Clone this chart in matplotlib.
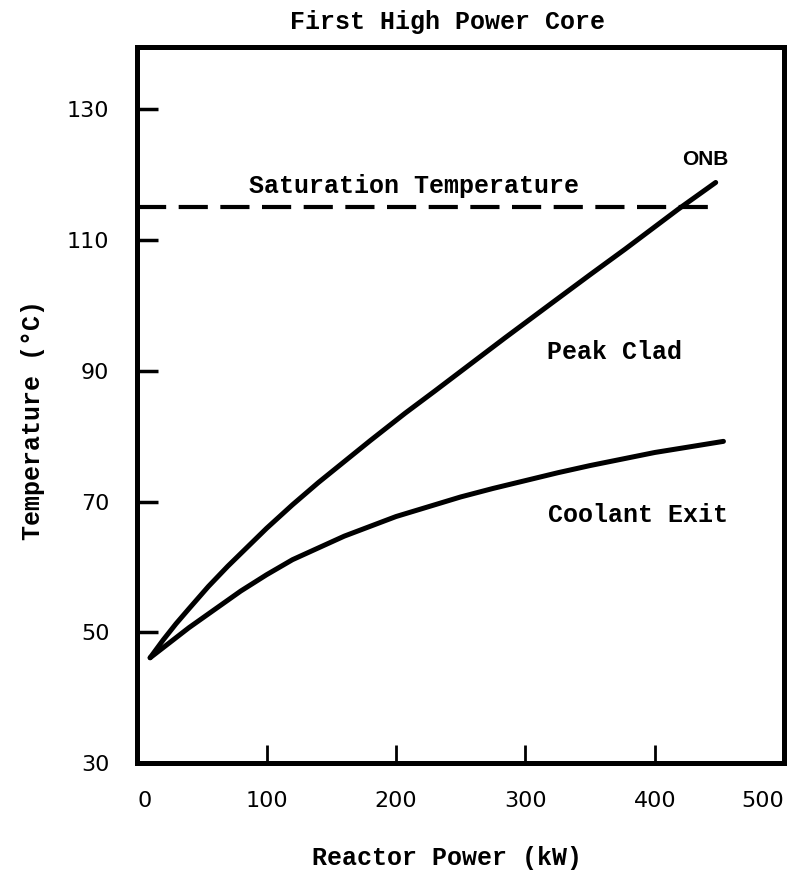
import matplotlib
matplotlib.use("Agg")
import matplotlib.pyplot as plt

# --- data ---
power_clad = [10, 20, 30, 40, 55, 70, 85, 100, 120, 140, 160, 180, 207,
              230, 258, 284, 320, 350, 377, 418, 447]
temp_clad = [46.1, 48.8, 51.3, 53.6, 57.0, 60.1, 63.0, 65.9, 69.5, 72.9, 76.1,
             79.3, 83.5, 86.9, 91.1, 95.0, 100.3, 104.7, 108.6, 114.7, 118.8]

power_exit = [10, 25, 40, 60, 80, 100, 120, 140, 160, 180, 200, 225, 250,
              275, 300, 325, 350, 375, 400, 425, 453]
temp_exit = [46.1, 48.4, 50.7, 53.5, 56.3, 58.8, 61.1, 62.9, 64.7, 66.2, 67.7,
             69.2, 70.7, 72.0, 73.2, 74.4, 75.5, 76.5, 77.5, 78.3, 79.2]

sat_power = [0, 448]
sat_temp = [115, 115]

x_ticks = [0, 100, 200, 300, 400, 500]
y_ticks = [30, 50, 70, 90, 110, 130]

mono = "Liberation Mono"

fig = plt.figure(figsize=(7.93, 8.73), dpi=100)
ax = fig.add_axes([0.173, 0.126, 0.816, 0.820])

ax.plot(power_clad, temp_clad, color="black", lw=3.6,
        solid_capstyle="round", solid_joinstyle="round")
ax.plot(power_exit, temp_exit, color="black", lw=3.6,
        solid_capstyle="round", solid_joinstyle="round")
ax.plot(sat_power, sat_temp, color="black", lw=3.0, dashes=(7, 3), clip_on=False)

ax.set_xlim(0, 500)
ax.set_ylim(30, 139.5)

for s in ax.spines.values():
    s.set_linewidth(3.6)

ax.set_xticks(x_ticks)
ax.set_yticks(y_ticks)
ax.tick_params(axis="x", direction="in", length=13, width=2, pad=20, labelsize=16)
ax.tick_params(axis="y", direction="in", length=15, width=2.5, pad=20, labelsize=16)
# no marks at the corners
xt = ax.xaxis.get_major_ticks()
for t in (xt[0], xt[-1], ax.yaxis.get_major_ticks()[0]):
    t.tick1line.set_visible(False)
xlabels = ax.get_xticklabels()
xlabels[0].set_ha("left")
xlabels[-1].set_ha("right")

ax.set_xlabel("Reactor Power (kW)", family=mono, fontsize=18, fontweight="bold",
              va="center")
ax.xaxis.set_label_coords(0.479, -0.133)
ax.set_ylabel("Temperature (\u00b0C)", family=mono, fontsize=18, fontweight="bold",
              va="center")
ax.yaxis.set_label_coords(-0.161, 0.479)

ax.text(0.479, 1.035, "First High Power Core", transform=ax.transAxes,
        ha="center", va="center", family=mono, fontsize=18, fontweight="bold")

ax.text(214, 118.3, "Saturation Temperature", ha="center", va="center",
        family=mono, fontsize=18, fontweight="bold")
ax.text(439, 122.3, "ONB", ha="center", va="center",
        family="Liberation Sans", fontsize=15, fontweight="bold")
ax.text(369, 92.9, "Peak Clad", ha="center", va="center",
        family=mono, fontsize=18, fontweight="bold")
ax.text(387, 68.0, "Coolant Exit", ha="center", va="center",
        family=mono, fontsize=18, fontweight="bold")

plt.savefig("out.png", dpi=100)
plt.close()
